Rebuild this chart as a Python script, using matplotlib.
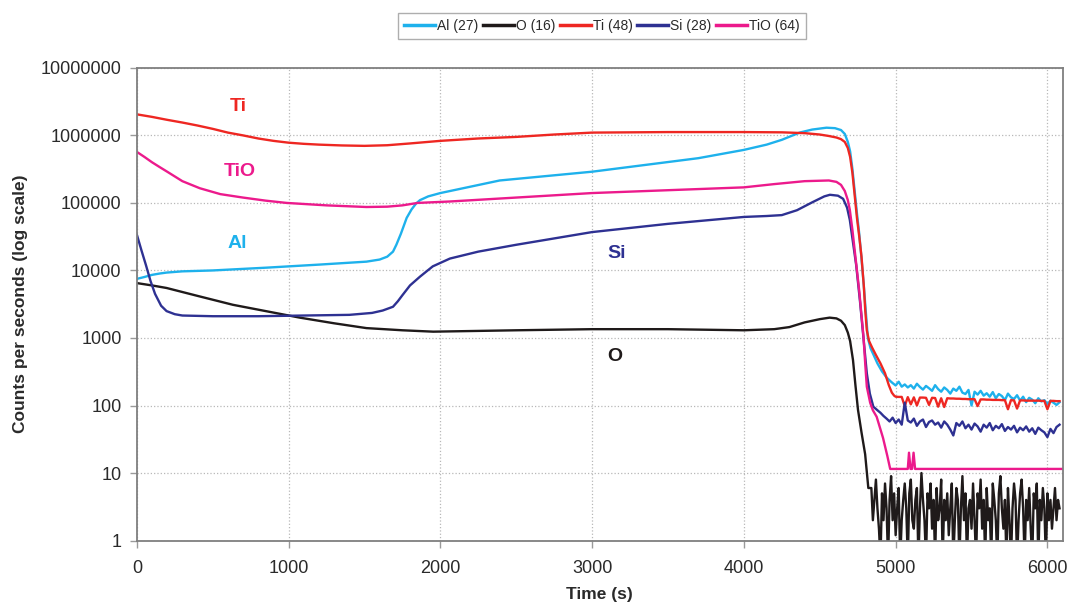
import numpy as np
import matplotlib
matplotlib.use("Agg")
from matplotlib import pyplot as plt
from matplotlib.ticker import FixedLocator, FixedFormatter

plt.rcParams['font.family'] = ['Liberation Sans', 'DejaVu Sans']

# depth profile, counts per second vs sputter time
al_t = [0, 50, 100, 150, 196, 300, 500, 855, 1200, 1513, 1600, 1650, 1688, 1710, 1740,
        1778, 1810, 1840, 1866, 1920, 2000, 2063, 2391, 3000, 3700, 4000, 4150, 4250,
        4367, 4450, 4544, 4600, 4640, 4665, 4685, 4700, 4715, 4730, 4745, 4760, 4775,
        4790, 4805, 4817, 4835, 4855, 4880, 4910, 4940, 4965]
al_v = [7500, 8000, 8600, 9000, 9300, 9700, 10000, 11000, 12200, 13500, 14500, 16000,
        19000, 24000, 35000, 60000, 80000, 98000, 110000, 125000, 140000, 150000, 215000,
        290000, 460000, 610000, 730000, 860000, 1100000, 1220000, 1300000, 1280000,
        1200000, 1050000, 800000, 580000, 320000, 150000, 70000, 35000, 15000, 6000,
        2200, 1000, 700, 560, 420, 320, 260, 230]
al_tail_start = 4980
al_tail = [215, 198, 225, 190, 205, 185, 200, 178, 210, 188,
           172, 195, 180, 165, 200, 175, 160, 185, 170, 150,
           178, 165, 190, 155, 148, 170, 100, 160, 145, 165,
           140, 152, 135, 158, 128, 148, 138, 120, 150, 132,
           125, 142, 118, 135, 112, 130, 122, 108, 128, 115,
           120, 105, 118, 110, 102, 112]

o_t = [0, 100, 196, 400, 633, 850, 1074, 1300, 1513, 1750, 1953, 2500, 3000, 3500, 4000,
       4200, 4300, 4400, 4500, 4565, 4610, 4640, 4665, 4685, 4700, 4719, 4735, 4752,
       4775, 4799, 4820]
o_v = [6500, 6000, 5500, 4200, 3100, 2500, 2000, 1650, 1400, 1300, 1240, 1300, 1350,
       1350, 1300, 1350, 1450, 1700, 1900, 2000, 1950, 1800, 1550, 1200, 900, 470, 200,
       86, 40, 19, 6]
o_tail_start = 4840
o_tail = [6, 2, 4, 8, 3, 1.5, 0.5, 5, 2, 7,
          3, 0.5, 4, 9, 2, 5, 1.2, 3, 6, 0.5,
          2, 4, 7, 3, 0.5, 5, 8, 2, 1.5, 4,
          6, 0.5, 3, 10, 4, 2, 0.5, 5, 3, 7,
          1.5, 4, 0.5, 6, 2, 3, 8, 0.5, 4, 2,
          5, 1.2, 3, 7, 0.5, 2, 6, 4, 0.5, 3,
          9, 2, 5, 0.5, 3, 4, 1.5, 7, 2, 0.5,
          5, 3, 8, 1.5, 4, 0.5, 6, 2, 3, 0.5,
          7, 4, 2, 0.5, 5, 9, 3, 1.5, 4, 0.5,
          6, 2, 0.5, 3, 7, 4, 0.5, 2, 5, 8,
          3, 0.5, 4, 2, 6, 1.5, 0.5, 5, 3, 7,
          0.5, 4, 2, 6, 3, 0.5, 5, 2, 4, 1.5,
          3, 6, 2, 4, 3]

ti_t = [0, 100, 200, 300, 400, 500, 600, 700, 800, 900, 1000, 1100, 1200, 1350, 1500,
        1650, 1800, 2000, 2250, 2500, 2750, 3000, 3500, 4000, 4250, 4400, 4500, 4560,
        4610, 4640, 4665, 4685, 4700, 4715, 4730, 4745, 4760, 4775, 4790, 4800, 4810,
        4825, 4845, 4870, 4900, 4930, 4955, 4975, 4990]
ti_v = [2050000, 1880000, 1700000, 1550000, 1400000, 1250000, 1100000, 1000000, 900000,
        830000, 780000, 750000, 730000, 710000, 700000, 715000, 760000, 830000, 900000,
        950000, 1030000, 1100000, 1120000, 1120000, 1110000, 1080000, 1030000, 980000,
        930000, 880000, 800000, 650000, 480000, 280000, 130000, 60000, 32000, 16000,
        6000, 2500, 1300, 900, 720, 560, 420, 300, 200, 155, 140]
ti_tail_start = 5000
ti_tail = [135, 134, 134, 98, 133, 104, 132, 100, 131, 131,
           130, 102, 130, 129, 96, 128, 95, 128, 127, 127,
           126, 126, 125, 125, 124, 124, 124, 98, 123, 123,
           122, 122, 121, 121, 121, 120, 120, 88, 120, 119,
           90, 119, 119, 118, 118, 118, 118, 118, 117, 117,
           88, 117, 117, 116, 116]

si_t = [0, 30, 60, 90, 120, 160, 196, 250, 300, 500, 800, 1100, 1400, 1550, 1620, 1688,
        1720, 1750, 1800, 1866, 1950, 2063, 2250, 2500, 3000, 3500, 4000, 4150, 4250,
        4350, 4450, 4530, 4567, 4620, 4654, 4680, 4698, 4720, 4740, 4765, 4788, 4810,
        4830, 4853, 4880]
si_v = [34000, 20000, 12000, 7000, 4500, 3000, 2500, 2250, 2150, 2100, 2100, 2150, 2200,
        2350, 2550, 2900, 3500, 4300, 6000, 8100, 11500, 15000, 19000, 24000, 37000,
        49000, 62000, 64000, 66000, 78000, 102000, 125000, 132000, 128000, 115000, 85000,
        56000, 25000, 12000, 3500, 1000, 300, 150, 96, 85]
si_tail_start = 4900
si_tail = [78, 70, 64, 58, 66, 55, 62, 52, 110, 60,
           56, 64, 50, 58, 62, 48, 57, 60, 52, 56,
           47, 58, 52, 44, 36, 55, 50, 58, 46, 52,
           44, 54, 49, 41, 52, 47, 55, 43, 50, 46,
           53, 42, 48, 44, 50, 40, 47, 43, 49, 41,
           46, 38, 47, 43, 40, 34, 45, 39, 48, 52]

tio_t = [0, 50, 100, 150, 200, 300, 415, 550, 700, 850, 987, 1250, 1513, 1650, 1750,
         1850, 2063, 3000, 4000, 4200, 4400, 4560, 4610, 4640, 4665, 4685, 4698, 4715,
         4730, 4760, 4788, 4800, 4810, 4832, 4850, 4875, 4917, 4945, 4964, 5080, 5088,
         5098, 5108, 5118, 5128, 6100]
tio_v = [570000, 480000, 400000, 340000, 290000, 210000, 165000, 135000, 120000, 108000,
         100000, 92000, 87000, 88000, 92000, 100000, 105000, 140000, 170000, 190000,
         210000, 215000, 205000, 185000, 150000, 110000, 79000, 40000, 20000, 5000, 1050,
         400, 190, 110, 85, 68, 33, 18, 11.5, 11.5, 20, 11.5, 11.5, 20, 11.5, 11.5]

series = [
    ("Al (27)", "#1eb1ec", al_t + list(np.arange(len(al_tail)) * 20 + al_tail_start), al_v + al_tail),
    ("O (16)", "#1f1a1a", o_t + list(np.arange(len(o_tail)) * 10 + o_tail_start), o_v + o_tail),
    ("Ti (48)", "#ee2722", ti_t + list(np.arange(len(ti_tail)) * 20 + ti_tail_start), ti_v + ti_tail),
    ("Si (28)", "#2e3192", si_t + list(np.arange(len(si_tail)) * 20 + si_tail_start), si_v + si_tail),
    ("TiO (64)", "#ec1a8c", tio_t, tio_v),
]

yticks = [1, 10, 100, 1000, 10000, 100000, 1000000, 10000000]
ytick_labels = [str(v) for v in yticks]
xticks = [0, 1000, 2000, 3000, 4000, 5000, 6000]

fig = plt.figure(figsize=(10.69, 6.06), dpi=100)
ax = fig.add_axes([0.128, 0.108, 0.866, 0.780])

for label, color, t, v in series:
    ax.plot(t, v, color=color, lw=1.7, label=label, solid_joinstyle='round')

ax.set_yscale('log')
ax.set_ylim(1, 1e7)
ax.set_xlim(0, 6100)
ax.yaxis.set_major_locator(FixedLocator(yticks))
ax.yaxis.set_major_formatter(FixedFormatter(ytick_labels))
ax.yaxis.set_minor_locator(FixedLocator([]))
ax.set_xticks(xticks)
ax.set_xticklabels([str(x) for x in xticks])

ax.grid(True, which='major', color='#b8b8b8', linestyle=':', lw=0.9)
ax.set_axisbelow(True)
for sp in ax.spines.values():
    sp.set_color('#7f7f7f')
    sp.set_linewidth(1.3)
ax.tick_params(axis='both', length=5, width=1, color='#9a9a9a', labelsize=13,
               labelcolor='#2a2a2a', pad=6)
ax.tick_params(axis='x', pad=9)

ax.set_ylabel("Counts per seconds (log scale)", fontsize=12.5, fontweight='bold',
              color='#2a2a2a', labelpad=9)
ax.set_xlabel("Time (s)", fontsize=12.5, fontweight='bold', color='#2a2a2a', labelpad=7)

# element names next to their curves
notes = [("Ti", 665, 2.7e6, "#ee2722"), ("TiO", 678, 2.9e5, "#ec1a8c"),
         ("Al", 659, 2.5e4, "#1eb1ec"), ("Si", 3162, 1.8e4, "#2e3192"),
         ("O", 3149, 540, "#1f1a1a")]
for txt, x, y, c in notes:
    ax.text(x, y, txt, color=c, fontsize=14, fontweight='bold', ha='center', va='center')

leg = fig.legend(loc='center', bbox_to_anchor=(0.563, 0.957), ncol=5, fontsize=10,
                 handlelength=2.2, handletextpad=0.15, columnspacing=0.35,
                 borderpad=0.45, fancybox=False, frameon=True)
leg.get_frame().set_edgecolor('#9a9a9a')
leg.get_frame().set_linewidth(1.0)
for line in leg.get_lines():
    line.set_linewidth(2.5)
for text in leg.get_texts():
    text.set_color('#2a2a2a')

fig.savefig("out.png", dpi=100)
